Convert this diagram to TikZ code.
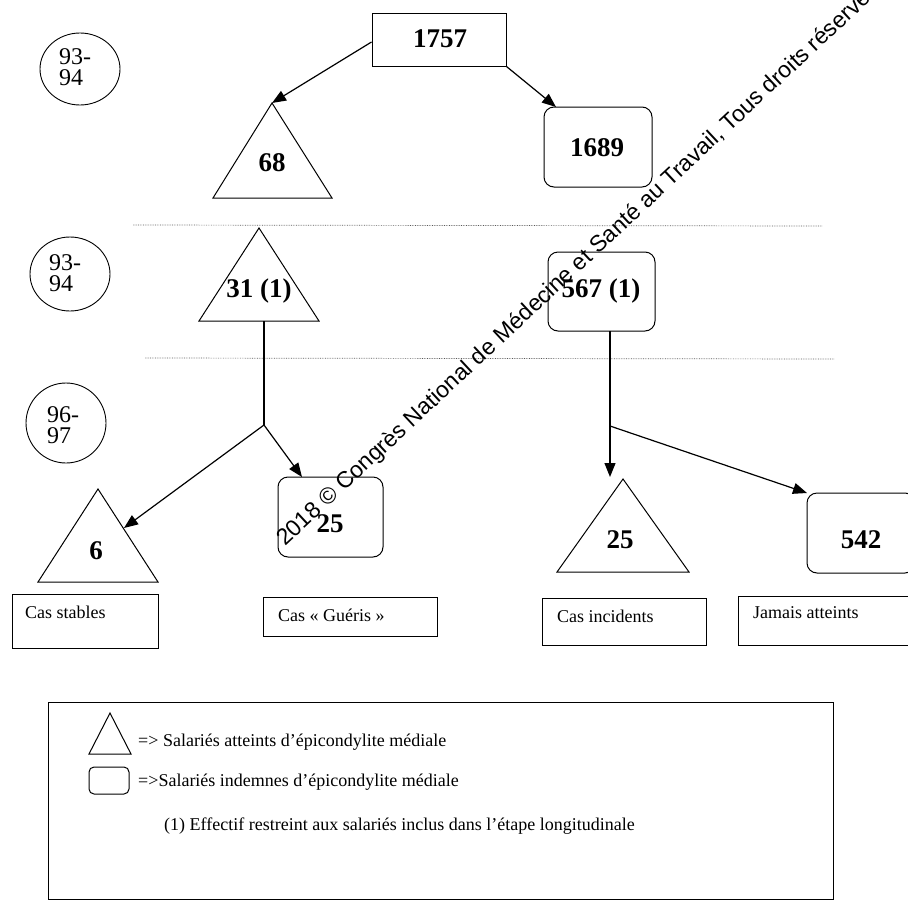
\documentclass[tikz,border=0pt]{standalone}
\usepackage{fontspec}
\setmainfont{Liberation Serif}
\newfontfamily\wmfont{Liberation Sans}
\usetikzlibrary{arrows.meta,shapes.geometric}
\begin{document}
\begin{tikzpicture}[x=1pt,y=-1pt,
  num/.style={font=\fontsize{27}{28}\selectfont\bfseries, inner sep=0pt},
  lab/.style={font=\fontsize{18}{20}\selectfont, inner sep=0pt, anchor=west},
  rbox/.style={draw, line width=1pt, rounded corners=10pt, inner sep=0pt},
  sbox/.style={draw, line width=1pt, inner sep=0pt},
  tri/.style={draw, line width=1pt, line join=miter},
  arr/.style={line width=1.2pt, -{Triangle[length=14pt,width=11pt]}},
  conn/.style={line width=1.2pt},
  yearc/.style={draw, line width=0.9pt, ellipse, inner sep=0pt},
  yeart/.style={inner sep=0pt, anchor=west, align=left, font=\fontsize{24}{21}\selectfont},
  sepline/.style={densely dotted, line width=0.7pt, gray!70!black},
]
\useasboundingbox (0,0) rectangle (908,900);
\clip (0,0) rectangle (908,900);

% year circles
\node[yearc, minimum width=80pt, minimum height=72pt] (c1) at (80,69) {};
\node[yeart] (c1t) at (59,67) {93-\\94};
\node[yearc, minimum width=80pt, minimum height=74pt] (c2) at (70,274) {};
\node[yeart] (c2t) at (49,273) {93-\\94};
\node[yearc, minimum width=80pt, minimum height=80pt] (c3) at (66,423) {};
\node[yeart] (c3t) at (47,425) {96-\\97};

% dotted separators
\coordinate (s1a) at (133,225); \coordinate (s1b) at (822,226);
\coordinate (s2a) at (145,358); \coordinate (s2b) at (834,359);
\draw[sepline] (s1a) -- (s1b);
\draw[sepline] (s2a) -- (s2b);

% top box
\node[sbox, minimum width=134pt, minimum height=53pt] (b1757) at (439,39.5) {};
\node[num] (n1757) at (440,39) {1757};

% triangle 68
\coordinate (t68) at (272,103);
\draw[tri] (t68) -- (213,198) -- (332,198) -- cycle;
\node[num] (n68) at (272,163) {68};

% box 1689
\node[rbox, minimum width=108pt, minimum height=80pt] (b1689) at (598,147) {};
\node[num] (n1689) at (597,148) {1689};
\coordinate (e1689) at (556,107);

% triangle 31 (1)
\coordinate (t31) at (259,228);
\draw[tri] (t31) -- (199,321) -- (319,321) -- cycle;
\node[num] (n31) at (259,291) {31 (1)};
\coordinate (t31b) at (264,321);

% box 567 (1)
\node[rbox, minimum width=107pt, minimum height=79pt] (b567) at (601.5,291.5) {};
\node[num] (n567) at (601,291) {567 (1)};
\coordinate (s567) at (610,331);

% triangle 6
\coordinate (t6) at (98,489);
\draw[tri] (t6) -- (38,582) -- (158,582) -- cycle;
\node[num] (n6) at (96,551) {6};
\coordinate (e6) at (124,528);

% box 25 (left)
\node[rbox, minimum width=105pt, minimum height=80pt] (b25) at (330.5,517) {};
\node[num] (n25a) at (330,524) {25};
\coordinate (e25) at (302,477);

% triangle 25
\coordinate (t25) at (623,479);
\draw[tri] (t25) -- (557,572) -- (689,572) -- cycle;
\node[num] (n25b) at (620,540) {25};
\coordinate (e25r) at (610,477);

% box 542
\node[rbox, minimum width=108pt, minimum height=80pt] (b542) at (861,533) {};
\node[num] (n542) at (861,540) {542};
\coordinate (e542) at (807,493);

% connectors
\draw[arr] (b1757.west |- 0,42) -- (t68);
\draw[arr] (b1757.south east) -- (e1689);
\coordinate (br1) at (264,425);
\draw[conn] (t31b) -- (br1);
\draw[arr] (br1) -- (e6);
\draw[arr] (br1) -- (e25);
\coordinate (br2) at (610,426);
\draw[arr] (s567) -- (e25r);
\draw[arr] (br2) -- (e542);

% label boxes
\node[sbox, minimum width=146pt, minimum height=54pt] (lb1) at (85,621) {};
\node[lab] (lt1) at (25,612) {Cas stables};
\node[sbox, minimum width=174pt, minimum height=39pt] (lb2) at (350,616.5) {};
\node[lab] (lt2) at (278,615) {Cas « Guéris »};
\node[sbox, minimum width=164pt, minimum height=47pt] (lb3) at (624,621.5) {};
\node[lab] (lt3) at (557,616) {Cas incidents};
\node[sbox, minimum width=177pt, minimum height=49pt] (lb4) at (826.5,620.5) {};
\node[lab] (lt4) at (753,613) {Jamais atteints};

% legend
\node[sbox, minimum width=785pt, minimum height=197pt] (leg) at (440.5,800.5) {};
\coordinate (lt) at (110,713);
\draw[tri] (lt) -- (89,754) -- (131,754) -- cycle;
\node[rbox, rounded corners=5pt, minimum width=40pt, minimum height=27pt] (lr) at (109,780.5) {};
\node[lab] (lg1) at (138,742) {=> Salariés atteints d’épicondylite médiale};
\node[lab] (lg2) at (138,782) {=>Salariés indemnes d’épicondylite médiale};
\node[lab] (lg3) at (164,826) {(1) Effectif restreint aux salariés inclus dans l’étape longitudinale};

% watermark
\node[inner sep=0pt, anchor=base west, rotate=43, font=\wmfont\fontsize{23}{23}\selectfont] (wm) at (285,547)
  {2018 © Congrès National de Médecine et Santé au Travail, Tous droits réservés};
\end{tikzpicture}
\end{document}
